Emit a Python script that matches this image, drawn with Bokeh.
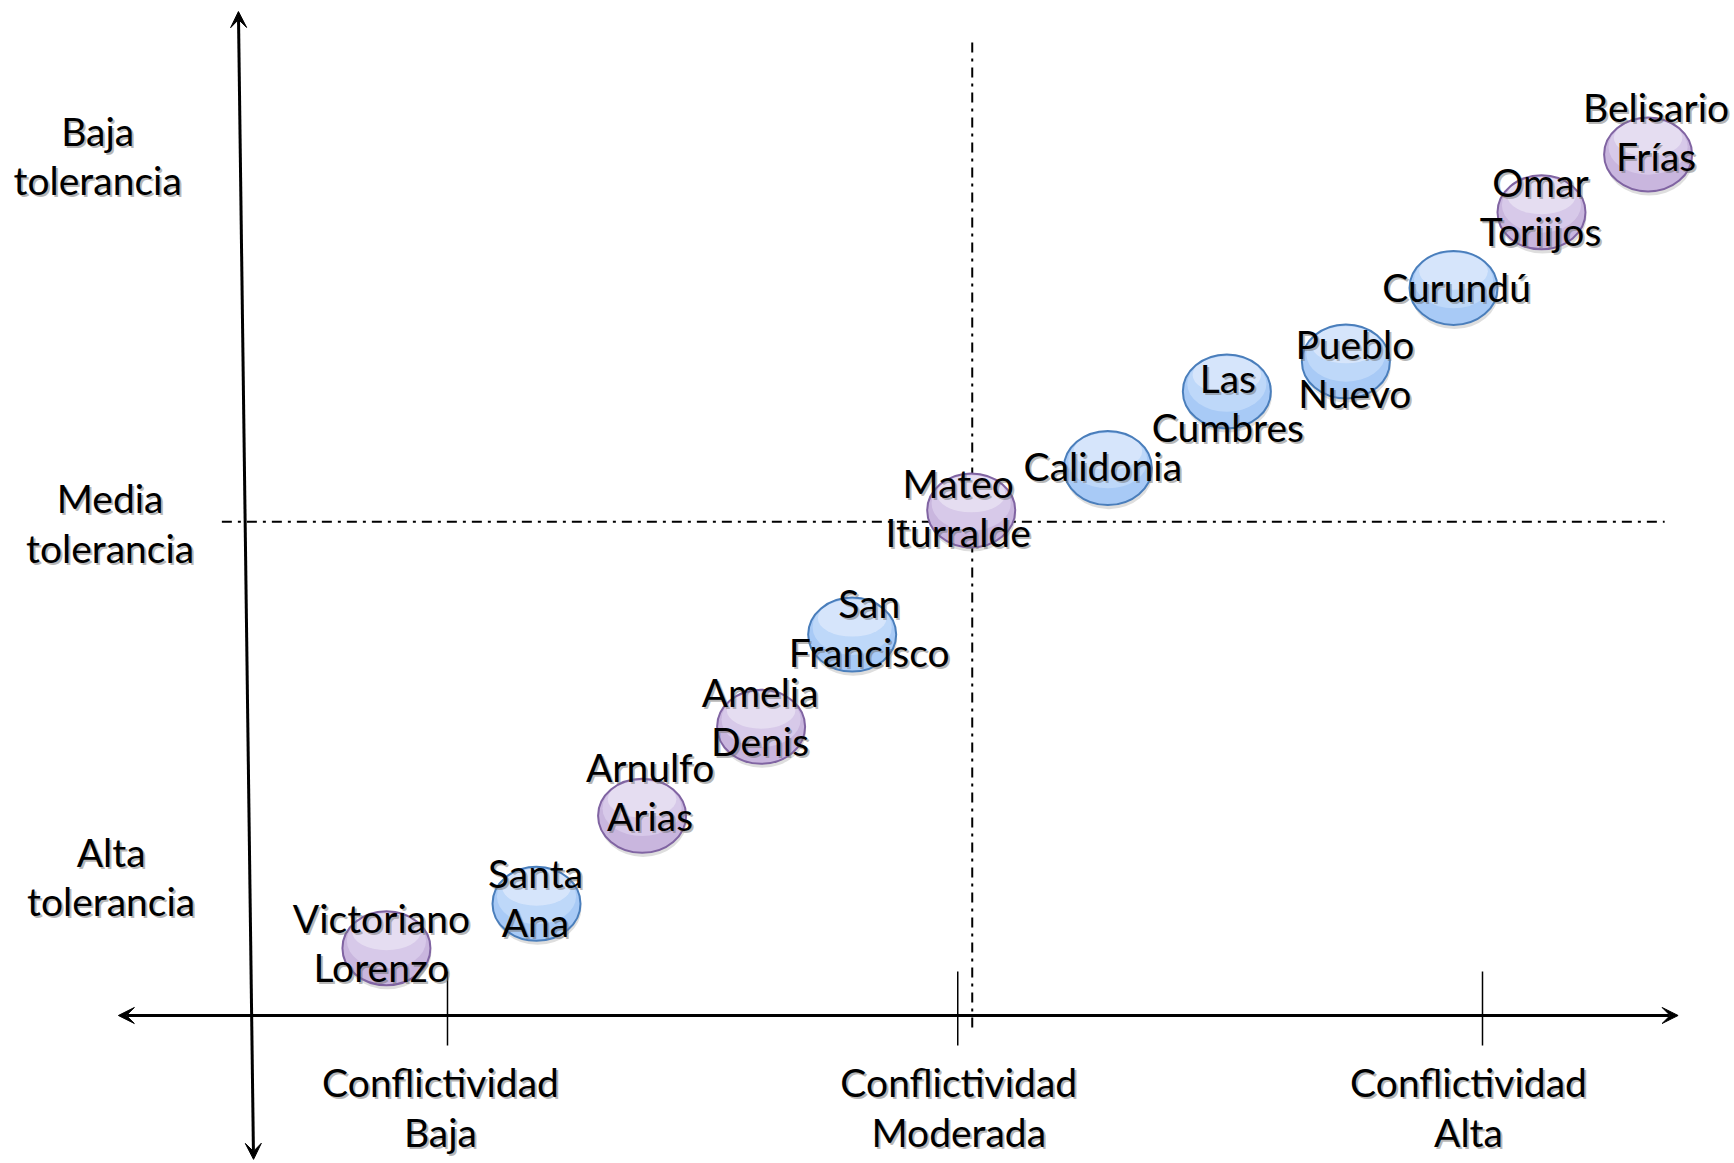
from bokeh.plotting import figure
from bokeh.models import Range1d, Arrow, VeeHead, ColumnDataSource
from bokeh.core.properties import value
from bokeh.transform import dodge
from bokeh.embed import file_html
from bokeh.resources import INLINE

# ---- data (conflictividad: x score, intolerancia: y score; origin at axes crossing) ----
barrios = ["Victoriano\nLorenzo", "Santa\nAna", "Arnulfo\nArias", "Amelia\nDenis",
           "San\nFrancisco", "Mateo\nIturralde", "Calidonia", "Las\nCumbres",
           "Pueblo\nNuevo", "Curundú", "Omar\nToriijos", "Belisario\nFrías"]
conflictividad = [1.41, 2.86, 3.88, 5.03, 5.91, 7.06, 8.38, 9.53, 10.68, 11.72, 12.57, 13.60]
intolerancia = [0.65, 1.08, 1.93, 2.79, 3.68, 4.88, 5.29, 6.03, 6.32, 7.03, 7.76, 8.32]
grupo = ["A", "B", "A", "A", "B", "A", "B", "B", "B", "B", "A", "A"]

x_cat_labels = ["Conflictividad\nBaja", "Conflictividad\nModerada", "Conflictividad\nAlta"]
x_cat_pos = [2.0, 6.93, 12.0]
y_cat_labels = ["Alta\ntolerancia", "Media\ntolerancia", "Baja\ntolerancia"]
y_cat_pos = [1.32, 4.74, 8.29]
x_mid = 7.07   # umbral conflictividad moderada
y_mid = 4.77   # umbral tolerancia media

# ---- layout / style ----
label_dx = [-5, -1, 8, -1, 17, -13, -5, 1, 9, 3, -1, 8]
label_dy = [-6, -6, -24, -10, -7, -3, -2, 11, 7, -1, -6, -23]
bottom_map = {"A": "#c9b6de", "B": "#a8caf6"}
mid_map = {"A": "#d9cceb", "B": "#c2daf9"}
top_map = {"A": "#e8e0f2", "B": "#dae8fc"}
line_map = {"A": "#8064a2", "B": "#4a7ebb"}
FONT = "Lato"
FS = "39px"
LH = 1.07
W, H = 88, 74
SH = dict(text_color="#707070", text_alpha=0.5)

src = ColumnDataSource(dict(
    x=conflictividad, y=intolerancia, name=barrios,
    bot=[bottom_map[g] for g in grupo], mid=[mid_map[g] for g in grupo],
    top=[top_map[g] for g in grupo], line=[line_map[g] for g in grupo],
    dx=label_dx, dy=label_dy,
    sdx=[d + 2 for d in label_dx], sdy=[d + 2 for d in label_dy],
))

p = figure(width=1734, height=1163,
           x_range=Range1d(-2.3188, 14.4348), y_range=Range1d(-1.4300, 9.8068),
           output_backend="svg", toolbar_location=None, min_border=0,
           x_axis_location=None, y_axis_location=None)
p.grid.visible = False
p.outline_line_color = None
p.background_fill_color = "white"

# dash-dot quadrant lines
p.line([x_mid, x_mid], [9.40, -0.155], line_color="black", line_width=2, line_dash="10 6 3 6")
p.line([-0.18, 13.76], [y_mid, y_mid], line_color="black", line_width=2, line_dash="10 6 3 6")

# main axes with arrows
head = dict(size=16, fill_color="black", line_color="black", line_width=1)
p.add_layout(Arrow(start=VeeHead(**head), end=VeeHead(**head),
                   x_start=0.126, y_start=-1.39, x_end=-0.02, y_end=9.70,
                   line_color="black", line_width=3))
p.add_layout(Arrow(start=VeeHead(**head), end=VeeHead(**head),
                   x_start=-1.18, y_start=0.0, x_end=13.89, y_end=0.0,
                   line_color="black", line_width=3))

# ticks
p.segment(x0=x_cat_pos, y0=[0.425] * 3, x1=x_cat_pos, y1=[-0.29] * 3,
          line_color="black", line_width=1.5)

# bubbles: soft shadow, gradient-like body, outline
p.ellipse(x=dodge("x", 0.01), y=dodge("y", -0.04), width=W, height=H,
          width_units="screen", height_units="screen",
          fill_color="#000000", fill_alpha=0.13, line_color=None, source=src)
p.ellipse(x="x", y="y", width=W, height=H, width_units="screen", height_units="screen",
          fill_color="bot", line_color=None, source=src)
p.ellipse(x="x", y=dodge("y", 0.0715), width=W * 0.9, height=H * 0.75,
          width_units="screen", height_units="screen",
          fill_color="mid", fill_alpha=0.85, line_color=None, source=src)
p.ellipse(x="x", y=dodge("y", 0.16), width=W * 0.78, height=H * 0.5,
          width_units="screen", height_units="screen",
          fill_color="top", fill_alpha=0.85, line_color=None, source=src)
p.ellipse(x="x", y="y", width=W, height=H, width_units="screen", height_units="screen",
          fill_color=None, line_color="line", line_width=2, source=src)

txt = dict(text_font=value(FONT), text_font_size=FS, text_align="center",
           text_baseline="middle", text_line_height=LH)

# labels with soft shadow
p.text(x="x", y="y", text="name", x_offset="sdx", y_offset="sdy", source=src, **SH, **txt)
p.text(x="x", y="y", text="name", x_offset="dx", y_offset="dy",
       text_color="black", source=src, **txt)

xl = ColumnDataSource(dict(x=x_cat_pos, y=[-0.904] * 3, t=x_cat_labels, dx=[-7, 1, -14]))
p.text(x="x", y="y", text="t", x_offset=dodge("dx", 2), y_offset=0, source=xl, **SH, **txt)
p.text(x="x", y="y", text="t", x_offset="dx", y_offset=-2, source=xl, text_color="black", **txt)

yl = ColumnDataSource(dict(x=[-1.25, -1.26, -1.38], y=y_cat_pos, t=y_cat_labels))
p.text(x="x", y="y", text="t", x_offset=2, y_offset=0, source=yl, **SH, **txt)
p.text(x="x", y="y", text="t", y_offset=-2, source=yl, text_color="black", **txt)

open("out.html", "w").write(file_html(p, INLINE))
